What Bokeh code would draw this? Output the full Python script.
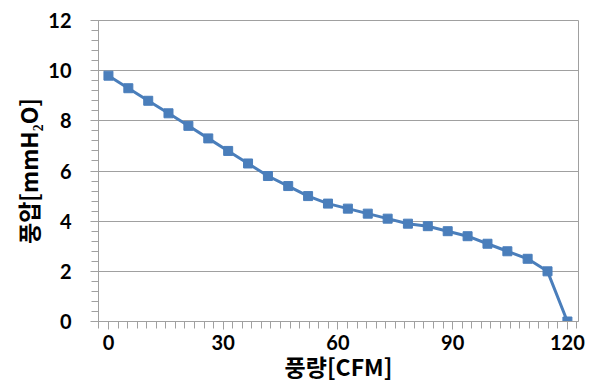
from bokeh.plotting import figure
from bokeh.models import Range1d, SingleIntervalTicker, ColumnDataSource
from bokeh.embed import file_html
from bokeh.resources import INLINE

# Data
flow_cfm = [0, 5.2, 10.4, 15.7, 20.9, 26.1, 31.3, 36.5, 41.7, 47.0, 52.2, 57.4,
            62.6, 67.8, 73.0, 78.3, 83.5, 88.7, 93.9, 99.1, 104.3, 109.6, 114.8, 120]
pressure_mmh2o = [9.8, 9.3, 8.8, 8.3, 7.8, 7.3, 6.8, 6.3, 5.8, 5.4, 5.0, 4.7,
                  4.5, 4.3, 4.1, 3.9, 3.8, 3.6, 3.4, 3.1, 2.8, 2.5, 2.0, 0.0]

x_label = "풍량[CFM]"
y_label = "풍압[mmH₂O]"

src = ColumnDataSource(dict(x=flow_cfm, y=pressure_mmh2o))

p = figure(width=601, height=385, output_backend="svg", toolbar_location=None,
           x_range=Range1d(-2.6, 122.9), y_range=Range1d(0, 12),
           min_border_left=98, min_border_right=23, min_border_top=20,
           min_border_bottom=62)

GRAY = "#a0a0a0"
BLUE = "#4A7EBB"

p.line("x", "y", source=src, line_color=BLUE, line_width=3)
p.scatter("x", "y", source=src, marker="square", size=9, fill_color=BLUE,
          line_color=BLUE)

p.xaxis.ticker = SingleIntervalTicker(interval=30, num_minor_ticks=12)
p.yaxis.ticker = SingleIntervalTicker(interval=2, num_minor_ticks=5)

for ax in (p.xaxis, p.yaxis):
    ax.axis_line_color = GRAY
    ax.major_tick_line_color = GRAY
    ax.minor_tick_line_color = GRAY
    ax.major_tick_in = 0
    ax.minor_tick_in = 0
    ax.major_tick_out = 8
    ax.minor_tick_out = 7
    ax.major_label_text_font = "Lato"
    ax.major_label_text_font_style = "bold"
    ax.major_label_text_font_size = "20px"
    ax.major_label_text_color = "black"
    ax.axis_label_text_font = "Noto Sans CJK KR"
    ax.axis_label_text_font_style = "bold"
    ax.axis_label_text_font_size = "23px"
    ax.axis_label_text_color = "black"

p.xaxis.axis_label = x_label
p.yaxis.axis_label = y_label
p.xaxis.major_label_standoff = 5
p.xaxis.axis_label_standoff = -4
p.yaxis.major_label_standoff = 19
p.yaxis.axis_label_standoff = 0

p.xgrid.visible = False
p.ygrid.grid_line_color = GRAY
p.ygrid.grid_line_width = 1

p.outline_line_color = GRAY
p.outline_line_width = 1
p.background_fill_color = "white"
p.border_fill_color = "white"

open("out.html", "w").write(file_html(p, INLINE))
